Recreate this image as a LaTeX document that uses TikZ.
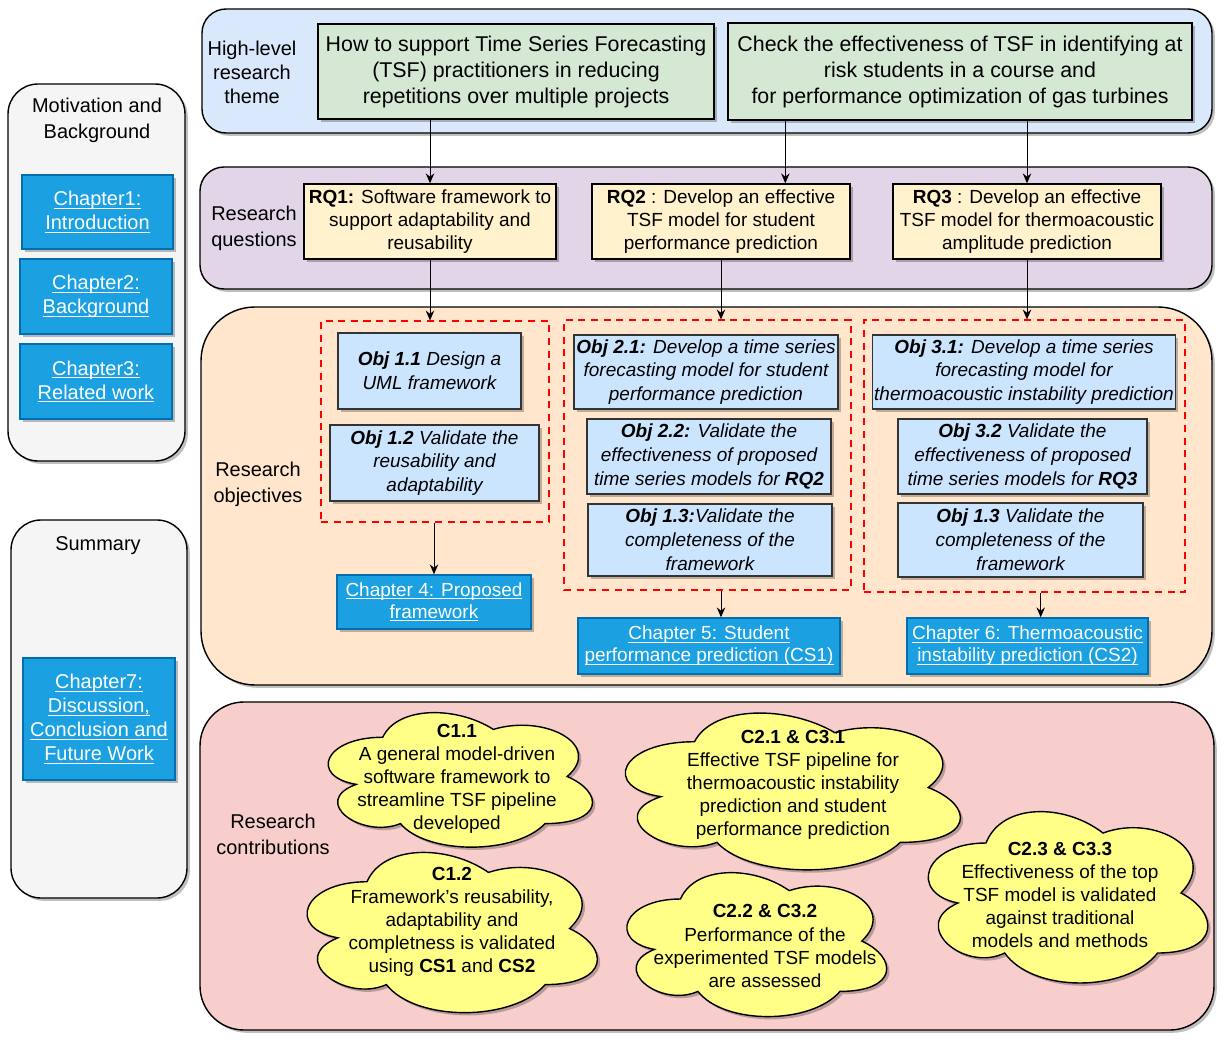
\documentclass[tikz,border=0pt]{standalone}
\usepackage{fontspec}
\setmainfont{Liberation Sans}
\usetikzlibrary{positioning}
\usetikzlibrary{shadows}
\usetikzlibrary{arrows.meta}

\definecolor{themeblue}{HTML}{DAE8FC}
\definecolor{themegreen}{HTML}{D5E8D4}
\definecolor{rqpurple}{HTML}{E1D5E7}
\definecolor{rqyellow}{HTML}{FFF2CC}
\definecolor{objorange}{HTML}{FFE6CC}
\definecolor{objblue}{HTML}{CCE5FF}
\definecolor{contribpink}{HTML}{F8CECC}
\definecolor{cloudyellow}{HTML}{FFFF88}
\definecolor{sidegray}{HTML}{F5F5F5}
\definecolor{chapblue}{HTML}{1BA1E2}
\definecolor{chapborder}{HTML}{006EAF}

% underlined link text
\newcommand{\chapline}[1]{\setbox0\hbox{#1}\leavevmode\rlap{\rule[-2pt]{\wd0}{0.6pt}}\box0}

% cloud in the box (x,y,w,h), centre named #1
\newcommand{\tsfcloud}[5]{%
  \draw[cloudline] ({#2+0.25*#4},{#3+0.25*#5})
    .. controls ({#2+0.05*#4},{#3+0.25*#5}) and ({#2},{#3+0.5*#5}) .. ({#2+0.16*#4},{#3+0.55*#5})
    .. controls ({#2},{#3+0.66*#5}) and ({#2+0.18*#4},{#3+0.9*#5}) .. ({#2+0.31*#4},{#3+0.8*#5})
    .. controls ({#2+0.4*#4},{#3+#5}) and ({#2+0.7*#4},{#3+#5}) .. ({#2+0.8*#4},{#3+0.8*#5})
    .. controls ({#2+#4},{#3+0.8*#5}) and ({#2+#4},{#3+0.6*#5}) .. ({#2+0.875*#4},{#3+0.5*#5})
    .. controls ({#2+#4},{#3+0.3*#5}) and ({#2+0.8*#4},{#3+0.1*#5}) .. ({#2+0.625*#4},{#3+0.2*#5})
    .. controls ({#2+0.5*#4},{#3+0.05*#5}) and ({#2+0.3*#4},{#3+0.05*#5}) .. ({#2+0.25*#4},{#3+0.25*#5})
    -- cycle;
  \coordinate (#1) at ({#2+0.5*#4},{#3+0.5*#5});}

\tikzset{
  wh/.style 2 args={minimum width=#1*0.025cm, minimum height=#2*0.025cm},
  softshadow/.style={drop shadow={shadow xshift=2pt,shadow yshift=-2pt,fill=black,opacity=0.25}},
  panel/.style={draw, line width=1pt, rounded corners=#1, softshadow},
  lbl/.style={align=center, font=\fontsize{14.2}{18.5}\selectfont},
  themebox/.style={draw, line width=1pt, fill=themegreen, softshadow, align=center, font=\fontsize{15.2}{18.5}\selectfont},
  rqbox/.style={draw, line width=1pt, fill=rqyellow, softshadow, align=center, font=\fontsize{13.5}{16.4}\selectfont, inner sep=1pt},
  objbox/.style={draw=black!80, line width=1pt, fill=objblue, softshadow, align=center, font=\fontsize{13.5}{17}\selectfont\itshape, inner sep=1pt},
  chapbox/.style={draw=chapborder, line width=1pt, fill=chapblue, text=white, softshadow, align=center, font=\fontsize{13.5}{15.6}\selectfont, inner sep=1pt},
  sidechap/.style={chapbox, font=\fontsize{14.2}{17}\selectfont},
  objgroup/.style={draw=red, dash pattern=on 5pt off 4pt, line width=0.8pt},
  cloudline/.style={draw, line width=1pt, fill=cloudyellow, softshadow},
  ctext/.style={align=center, font=\fontsize{13.5}{16.4}\selectfont},
  arr/.style={-{Stealth[length=7pt,width=6pt]}, line width=0.7pt},
}

\begin{document}
\begin{tikzpicture}[x=0.025cm,y=-0.025cm]
\useasboundingbox (0,0) rectangle (1224,1044);

% left column
\node[panel=0.75cm, fill=sidegray, wh={177}{377}] (motiv) at (96.5,272.5) {};
\node[lbl] (motivlbl) at (97,120) {Motivation and\\Background};
\node[sidechap, wh={151}{74}] (ch1) at (97.5,212) {\chapline{Chapter1:}\\\chapline{Introduction}};
\node[sidechap, wh={152}{75}] (ch2) at (96,296.5) {\chapline{Chapter2:}\\\chapline{Background}};
\node[sidechap, wh={152}{75}] (ch3) at (96,381.5) {\chapline{Chapter3:}\\\chapline{Related work}};

\node[panel=0.75cm, fill=sidegray, wh={176}{378}] (summ) at (99,709) {};
\node[lbl] (summlbl) at (98,546) {Summary};
\node[sidechap, wh={152}{122}] (ch7) at (99,719) {\chapline{Chapter7:}\\\chapline{Discussion,}\\\chapline{Conclusion and}\\\chapline{Future Work}};

% research theme
\node[panel=0.6cm, fill=themeblue, wh={1010}{124}] (theme) at (707,71) {};
\node[lbl, font=\fontsize{14.2}{17}\selectfont] (themelbl) at (252,72) {High-level\\research\\theme};
\node[themebox, wh={396}{95}] (g1) at (516,71.5) {How to support Time Series Forecasting\\(TSF) practitioners in reducing\\repetitions over multiple projects};
\node[themebox, wh={464}{97}] (g2) at (960,71.5) {Check the effectiveness of TSF in identifying at\\risk students in a course and\\for performance optimization of gas turbines};

% research questions
\node[panel=0.6cm, fill=rqpurple, wh={1012}{122}] (rqpanel) at (706,228) {};
\node[lbl] (rqlbl) at (254,228) {Research\\questions};
\node[rqbox, wh={252}{75}] (rq1) at (430,221.5) {\textbf{RQ1:} Software framework to\\support adaptability and\\reusability};
\node[rqbox, wh={258}{75}] (rq2) at (721,221.5) {\textbf{RQ2} : Develop an effective\\TSF model for student\\performance prediction};
\node[rqbox, wh={268}{75}] (rq3) at (1027,221.5) {\textbf{RQ3} : Develop an effective\\TSF model for thermoacoustic\\amplitude prediction};

% research objectives
\node[panel=1.35cm, fill=objorange, wh={1011}{378}] (objpanel) at (706.5,496) {};
\node[lbl] (objlbl) at (258,484) {Research\\objectives};
\node[objgroup, wh={228}{201}] (grp1) at (435,421.5) {};
\node[objbox, wh={183}{76}] (o11) at (429.5,371) {\textbf{Obj 1.1} Design a\\UML framework};
\node[objbox, wh={209}{76}] (o12) at (434.5,463) {\textbf{Obj 1.2} Validate the\\reusability and\\adaptability};
\node[chapbox, wh={194}{54}] (ch4) at (434,602) {\chapline{Chapter 4: Proposed}\\\chapline{framework}};

\node[objgroup, wh={287}{270}] (grp2) at (707.5,455) {};
\node[objbox, wh={264}{74}] (o21) at (706,372) {\textbf{Obj 2.1:} Develop a time series\\forecasting model for student\\performance prediction};
\node[objbox, wh={244}{75}] (o22) at (709,456.5) {\textbf{Obj 2.2:} Validate the\\effectiveness of proposed\\time series models for \textbf{RQ2}};
\node[objbox, wh={244}{72}] (o13a) at (710,540) {\textbf{Obj 1.3:}Validate the\\completeness of the\\framework};
\node[chapbox, wh={262}{56}] (ch5) at (709,646) {\chapline{Chapter 5: Student}\\\chapline{performance prediction (CS1)}};

\node[objgroup, wh={321}{272}] (grp3) at (1024.5,456) {};
\node[objbox, wh={302}{74}] (o31) at (1024,372) {\textbf{Obj 3.1:} Develop a time series\\forecasting model for\\thermoacoustic instability prediction};
\node[objbox, wh={249}{75}] (o32) at (1022.5,456.5) {\textbf{Obj 3.2} Validate the\\effectiveness of proposed\\time series models for \textbf{RQ3}};
\node[objbox, wh={245}{74}] (o13b) at (1020.5,540) {\textbf{Obj 1.3} Validate the\\completeness of the\\framework};
\node[chapbox, wh={241}{56}] (ch6) at (1027.5,646) {\chapline{Chapter 6: Thermoacoustic}\\\chapline{instability prediction (CS2)}};

% research contributions
\node[panel=1.1cm, fill=contribpink, wh={1014}{328}] (conpanel) at (707,866) {};
\node[lbl] (conlbl) at (273,834) {Research\\contributions};
\tsfcloud{c11}{309}{698}{295}{157}
\node[ctext] (c11txt) at (457,779) {\textbf{C1.1}\\A general model-driven\\software framework to\\streamline TSF pipeline\\developed};
\tsfcloud{c12}{286}{835}{324}{187}
\node[ctext] (c12txt) at (452,922) {\textbf{C1.2}\\Framework's reusability,\\adaptability and\\completness is validated\\using \textbf{CS1} and \textbf{CS2}};
\tsfcloud{c21}{601}{696}{374}{183}
\node[ctext] (c21txt) at (793,785) {\textbf{C2.1 \& C3.1}\\Effective TSF pipeline for\\thermoacoustic instability\\prediction and student\\performance prediction};
\tsfcloud{c22}{608}{857}{290}{168}
\node[ctext] (c22txt) at (765,946) {\textbf{C2.2 \& C3.2}\\Performance of the\\experimented TSF models\\are assessed};
\tsfcloud{c23}{908}{793}{312}{200}
\node[ctext] (c23txt) at (1060,895) {\textbf{C2.3 \& C3.3}\\Effectiveness of the top\\TSF model is validated\\against traditional\\models and methods};

% arrows
\draw[arr] (rq1.north |- g1.south) -- (rq1.north);
\draw[arr] ([xshift=1.45cm]g2.south west) -- ([xshift=1.45cm]g2.south west |- rq2.north);
\draw[arr] (rq3.north |- g2.south) -- (rq3.north);
\draw[arr] (rq1.south) -- (rq1.south |- grp1.north);
\draw[arr] (rq2.south) -- (rq2.south |- grp2.north);
\draw[arr] (rq3.south) -- (rq3.south |- grp3.north);
\draw[arr] (grp1.south -| ch4.north) -- (ch4.north);
\draw[arr] (rq2.south |- grp2.south) -- (rq2.south |- ch5.north);
\draw[arr] ([xshift=0.33cm]ch6.north |- grp3.south) -- ([xshift=0.33cm]ch6.north);
\end{tikzpicture}
\end{document}
